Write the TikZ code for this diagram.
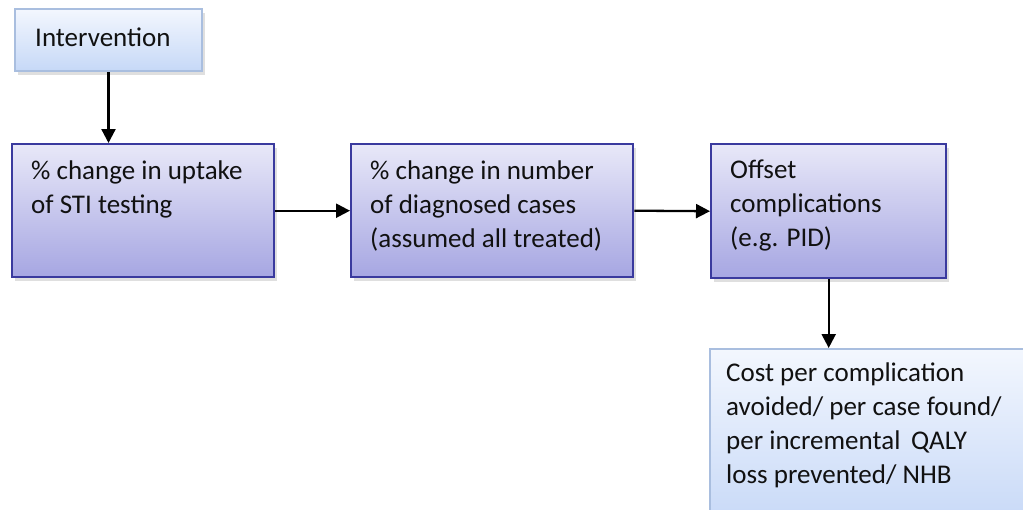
\documentclass[tikz,border=0pt]{standalone}
\usepackage{fontspec}
\setmainfont{Carlito}
\usetikzlibrary{arrows.meta,shadows,calc}
\definecolor{dbord}{HTML}{3A3A9E}
\definecolor{dtop}{HTML}{E8E8F8}
\definecolor{dbot}{HTML}{A6A6E2}
\definecolor{lbord}{HTML}{A9BEDF}
\definecolor{ltop}{HTML}{F3F7FE}
\definecolor{lbot}{HTML}{C6D8F7}
\definecolor{txtc}{HTML}{111111}
\begin{document}
\begin{tikzpicture}[x=1pt,y=-1pt,
  dbox/.style={draw=dbord, line width=2.4pt, top color=dtop, bottom color=dbot, anchor=north west, inner sep=0pt,
    drop shadow={opacity=0.25, shadow xshift=3pt, shadow yshift=-4pt}},
  lbox/.style={draw=lbord, line width=2pt, top color=ltop, bottom color=lbot, anchor=north west, inner sep=0pt,
    drop shadow={opacity=0.25, shadow xshift=3pt, shadow yshift=-4pt}},
  txt/.style={anchor=north west, inner sep=0pt, align=left, text=txtc, font=\fontsize{27}{34}\selectfont},
  arr/.style={-{Triangle[length=14pt,width=14pt]}, line width=2.3pt, black}]
\useasboundingbox (0,0) rectangle (1023,509);
\clip (0,0) rectangle (1023,509);
\fill[white] (0,0) rectangle (1023,509);
% boxes
\node[lbox, minimum width=187pt, minimum height=62pt] (iv) at (14,8) {};
\node[dbox, minimum width=262pt, minimum height=133pt] (b1) at (11,143) {};
\node[dbox, minimum width=282pt, minimum height=133pt] (b2) at (350,143) {};
\node[dbox, minimum width=235pt, minimum height=134pt] (b3) at (710,143) {};
\node[lbox, minimum width=330pt, minimum height=180pt] (b4) at (709,348) {};
% texts
\node[txt] (tiv) at (35,28) {Intervention};
\node[txt] (t1) at (31,161) {\% change in uptake\\of STI testing};
\node[txt] (t2) at (370,161) {\% change in number\\of diagnosed cases\\(assumed all treated)};
\node[txt] (t3) at (730,160) {Offset\\complications\\(e.g. PID)};
\node[txt] (t4) at (726,363) {Cost per complication\\avoided/ per case found/\\per incremental\, QALY\\loss prevented/ NHB};
% connectors
\draw[arr] (iv.south) -- (iv.south |- b1.north);
\draw[arr] (b1.east) -- (b2.west);
\draw[arr] (b2.east) -- (b3.west);
\draw[arr] (b3.south) -- (b3.south |- b4.north);
\end{tikzpicture}
\end{document}
